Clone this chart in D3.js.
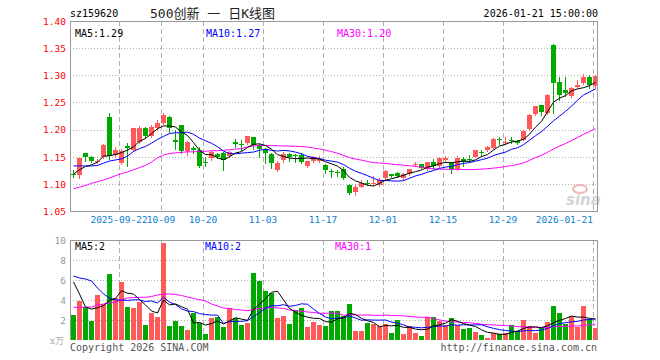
<!DOCTYPE html>
<html><head><meta charset="utf-8">
<script src="https://cdn.jsdelivr.net/npm/d3@7"></script>
<style>body{margin:0;background:#fff}svg{display:block}</style>
</head><body><svg id="c" width="660" height="360"></svg>
<script>
const dates = ["2025-09-10","2025-09-11","2025-09-12","2025-09-15","2025-09-16","2025-09-17","2025-09-18","2025-09-19",
"2025-09-22","2025-09-23","2025-09-24","2025-09-25","2025-09-26","2025-09-29","2025-09-30","2025-10-09","2025-10-10",
"2025-10-13","2025-10-14","2025-10-15","2025-10-16","2025-10-17","2025-10-20","2025-10-21","2025-10-22","2025-10-23","2025-10-24",
"2025-10-27","2025-10-28","2025-10-29","2025-10-30","2025-10-31","2025-11-03","2025-11-04","2025-11-05","2025-11-06","2025-11-07",
"2025-11-10","2025-11-11","2025-11-12","2025-11-13","2025-11-14","2025-11-17","2025-11-18","2025-11-19","2025-11-20","2025-11-21",
"2025-11-24","2025-11-25","2025-11-26","2025-11-27","2025-11-28","2025-12-01","2025-12-02","2025-12-03","2025-12-04","2025-12-05",
"2025-12-08","2025-12-09","2025-12-10","2025-12-11","2025-12-12","2025-12-15","2025-12-16","2025-12-17","2025-12-18","2025-12-19",
"2025-12-22","2025-12-23","2025-12-24","2025-12-25","2025-12-26","2025-12-29","2025-12-30","2025-12-31","2026-01-05","2026-01-06",
"2026-01-07","2026-01-08","2026-01-09","2026-01-12","2026-01-13","2026-01-14","2026-01-15","2026-01-16","2026-01-19","2026-01-20","2026-01-21"];

const open = [1.119,1.116,1.157,1.150,1.141,1.150,1.223,1.153,1.138,1.170,1.162,1.178,1.203,1.188,1.202,1.212,1.223,1.180,1.208,1.160,
1.166,1.162,1.140,1.147,1.155,1.156,1.151,1.178,1.174,1.175,1.186,1.172,1.164,1.155,1.126,1.144,1.155,1.154,1.153,1.132,
1.142,1.143,1.135,1.123,1.122,1.127,1.098,1.085,1.095,1.102,1.101,1.098,1.110,1.118,1.120,1.110,1.119,1.135,1.136,1.127,
1.140,1.132,1.144,1.138,1.127,1.146,1.146,1.150,1.159,1.162,1.166,1.182,1.176,1.181,1.179,1.181,1.201,1.229,1.245,1.231,
1.356,1.288,1.273,1.262,1.278,1.285,1.297,1.280];
const high = [1.125,1.148,1.157,1.151,1.146,1.173,1.231,1.168,1.164,1.176,1.203,1.207,1.205,1.208,1.218,1.231,1.225,1.199,1.209,1.179,
1.170,1.167,1.150,1.160,1.156,1.158,1.160,1.182,1.181,1.189,1.187,1.173,1.166,1.157,1.142,1.159,1.157,1.155,1.156,1.143,
1.152,1.151,1.136,1.127,1.126,1.131,1.099,1.098,1.108,1.107,1.115,1.110,1.125,1.119,1.121,1.120,1.128,1.140,1.137,1.141,
1.145,1.150,1.152,1.141,1.151,1.150,1.154,1.163,1.162,1.169,1.184,1.186,1.186,1.186,1.180,1.200,1.228,1.244,1.246,1.265,
1.357,1.297,1.297,1.278,1.292,1.302,1.300,1.300];
const low = [1.112,1.110,1.143,1.140,1.139,1.147,1.145,1.150,1.137,1.132,1.160,1.175,1.184,1.186,1.200,1.210,1.196,1.165,1.157,1.153,
1.156,1.131,1.132,1.144,1.147,1.126,1.150,1.168,1.163,1.174,1.165,1.150,1.138,1.129,1.124,1.141,1.143,1.140,1.138,1.131,
1.140,1.140,1.120,1.113,1.115,1.109,1.082,1.080,1.094,1.098,1.098,1.096,1.108,1.112,1.112,1.108,1.117,1.132,1.129,1.125,
1.127,1.131,1.141,1.120,1.125,1.132,1.141,1.149,1.154,1.160,1.165,1.173,1.174,1.175,1.174,1.180,1.200,1.227,1.227,1.228,
1.230,1.254,1.262,1.260,1.276,1.284,1.276,1.277];
const close = [1.117,1.147,1.150,1.143,1.143,1.172,1.151,1.162,1.160,1.166,1.202,1.202,1.188,1.204,1.212,1.227,1.203,1.177,1.160,1.178,
1.162,1.132,1.138,1.159,1.149,1.144,1.159,1.173,1.172,1.188,1.172,1.164,1.157,1.138,1.138,1.155,1.150,1.151,1.140,1.142,
1.150,1.146,1.126,1.121,1.120,1.110,1.083,1.094,1.101,1.100,1.102,1.107,1.124,1.114,1.115,1.119,1.127,1.137,1.130,1.140,
1.132,1.147,1.148,1.127,1.148,1.140,1.144,1.162,1.157,1.167,1.182,1.180,1.178,1.179,1.175,1.198,1.227,1.243,1.233,1.264,
1.285,1.264,1.267,1.276,1.282,1.297,1.282,1.298];
const volume = [2.5,3.93,3.27,1.93,4.5,3.6,6.6,4.17,5.77,3.27,3.17,3.83,1.5,2.73,2.27,9.67,1.4,1.93,1.4,1.0,
2.73,1.73,0.6,2.17,2.27,1.27,3.23,2.17,1.5,1.67,6.67,5.9,4.9,4.73,2.17,2.4,1.57,3.0,3.17,1.27,
1.83,1.5,1.4,2.93,2.93,2.4,3.6,0.93,0.93,1.73,1.6,1.4,1.6,0.73,2.0,0.6,1.4,0.73,0.4,2.27,
2.27,1.93,1.5,2.17,1.5,1.1,1.17,0.83,0.5,0.23,0.73,0.6,0.73,1.5,0.93,2.0,1.4,0.73,1.17,1.83,
3.4,2.73,1.6,2.4,1.33,3.4,2.07,1.23];

// moving-average values for the days before a full window exists
const ma5Head = [1.118,1.126,1.132,1.135];
const ma10Head = [1.133,1.133,1.133,1.133,1.134,1.138,1.142,1.144,1.146];
const ma30Head = [1.091,1.094,1.097,1.101,1.104,1.107,1.111,1.115,1.119,1.122,1.126,1.130,1.134,1.140,1.148,1.153,1.156,1.157,1.158,1.159,
1.159,1.160,1.160,1.161,1.161,1.162,1.163,1.164,1.165];
const vma5Head = [5.8,4.6,3.3,3.1];
const vma10Head = [6.4,6.2,6.1,5.9,5.2,4.6,4.2,4.0,4.0];
const vma30Head = [3.27,3.27,3.27,3.3,3.5,3.6,3.7,3.8,4.0,4.2,4.25,4.27,4.27,4.35,4.5,4.6,4.6,4.55,4.45,4.3,
4.15,4.05,3.9,3.6,3.4,3.2,3.15,3.05,3.0];

const priceTicks = [1.05,1.10,1.15,1.20,1.25,1.30,1.35,1.40];
const volTicks = [2,4,6,8,10];
const tickDates = ["2025-09-22","2025-10-09","2025-10-20","2025-11-03","2025-11-17","2025-12-01","2025-12-15","2025-12-29","2026-01-21"];
const tickLabels = ["2025-09-22","10-09","10-20","11-03","11-17","12-01","12-15","12-29","2026-01-21"];

const RED = "#ff5a5a", GREEN = "#00a800", GRID = "#b0b0b0", FRAME = "#999";
const MONO = "'DejaVu Sans Mono', monospace";

const svg = d3.select("#c");
const L = 70, R = 597, T = 21, B = 211, VT = 240, VB = 340;
const x = d3.scalePoint().domain(dates).range([73, 595]);
const y = d3.scaleLinear().domain([1.05, 1.40]).range([B, T]);
const yv = d3.scaleLinear().domain([0, 10]).range([VB, VT]);

function movingAvg(vals, n, head) {
  return vals.map((v, i) => i < n - 1 ? head[i] : d3.mean(vals.slice(i - n + 1, i + 1)));
}
const ma5 = movingAvg(close, 5, ma5Head), ma10 = movingAvg(close, 10, ma10Head), ma30 = movingAvg(close, 30, ma30Head);
const vma5 = movingAvg(volume, 5, vma5Head), vma10 = movingAvg(volume, 10, vma10Head), vma30 = movingAvg(volume, 30, vma30Head);

const data = dates.map((d, i) => ({d, o: open[i], h: high[i], l: low[i], c: close[i], v: volume[i], up: close[i] >= open[i]}));
const crisp = v => Math.round(v) + 0.5;

// ---------- header ----------
svg.append("text").attr("x", 70).attr("y", 17).attr("font-family", MONO).attr("font-size", 10).attr("fill", "#000").text("sz159620");
svg.append("text").attr("x", 150).attr("y", 18).attr("font-family", "'DejaVu Sans Mono','Noto Sans CJK SC',sans-serif")
  .attr("font-size", 13).attr("fill", "#222").text("500创新 一 日K线图");
svg.append("text").attr("x", 598).attr("y", 17).attr("text-anchor", "end").attr("font-family", MONO).attr("font-size", 10).attr("fill", "#000").text("2026-01-21 15:00:00");

// ---------- grids ----------
const g = svg.append("g").attr("shape-rendering", "crispEdges");
g.selectAll(".hg").data(priceTicks.filter(t => t > 1.05 && t < 1.40)).join("line")
  .attr("x1", L).attr("x2", R).attr("y1", t => crisp(y(t))).attr("y2", t => crisp(y(t)))
  .attr("stroke", GRID).attr("stroke-dasharray", "1,2");
g.selectAll(".hv").data(volTicks.filter(t => t < 10)).join("line")
  .attr("x1", L).attr("x2", R).attr("y1", t => crisp(yv(t))).attr("y2", t => crisp(yv(t)))
  .attr("stroke", GRID).attr("stroke-dasharray", "1,2");
tickDates.forEach(d => {
  const xx = Math.round(x(d) - 2.5) + 0.5;
  g.append("line").attr("x1", xx).attr("x2", xx).attr("y1", T).attr("y2", B).attr("stroke", GRID).attr("stroke-dasharray", "5,3");
  g.append("line").attr("x1", xx).attr("x2", xx).attr("y1", VT).attr("y2", VB).attr("stroke", GRID).attr("stroke-dasharray", "5,3");
});

// ---------- y axis labels ----------
const ya = d3.axisLeft(y).tickValues(priceTicks).tickSize(0).tickPadding(0).tickFormat(d3.format(".2f"));
const yaG = svg.append("g").attr("transform", "translate(66,0)").call(ya);
yaG.select(".domain").remove();
yaG.selectAll("text").attr("font-family", MONO).attr("font-size", 9.5).attr("fill", "#f00").attr("dy", "0.35em");

const yva = d3.axisLeft(yv).tickValues(volTicks).tickSize(0).tickPadding(0).tickFormat(d3.format("d"));
const yvaG = svg.append("g").attr("transform", "translate(66,0)").call(yva);
yvaG.select(".domain").remove();
yvaG.selectAll("text").attr("font-family", MONO).attr("font-size", 9.5).attr("fill", "#999").attr("dy", "0.35em");
svg.append("text").attr("x", 64).attr("y", 344).attr("text-anchor", "end").attr("font-family", "'DejaVu Serif','Noto Sans CJK SC',serif")
  .attr("font-size", 9).attr("fill", "#aaa").text("x万");

// ---------- x axis labels ----------
const xa = d3.axisBottom(x).tickValues(tickDates).tickSize(0).tickPadding(0)
  .tickFormat(d => tickLabels[tickDates.indexOf(d)]);
const xaG = svg.append("g").attr("transform", "translate(-2.5,218)").call(xa);
xaG.select(".domain").remove();
xaG.selectAll("text").attr("font-family", MONO).attr("font-size", 9.5).attr("fill", "#0a7fd0").attr("dy", "0.55em");
xaG.selectAll(".tick").filter(d => d === tickDates[tickDates.length - 1]).select("text").attr("text-anchor", "end");

// ---------- watermark ----------
svg.append("ellipse").attr("cx", 580).attr("cy", 189).attr("rx", 7).attr("ry", 4).attr("fill", "none").attr("stroke", "#f2b8b8").attr("stroke-width", 2);
svg.append("text").attr("x", 566).attr("y", 205).attr("font-family", "'DejaVu Sans',sans-serif").attr("font-style", "italic").attr("font-weight", "bold")
  .attr("font-size", 15).attr("fill", "#d4d4d4").text("sina");

// ---------- candles ----------
const cg = svg.append("g").attr("shape-rendering", "crispEdges");
cg.selectAll(".wick").data(data).join("line")
  .attr("x1", d => x(d.d) + 0.5).attr("x2", d => x(d.d) + 0.5)
  .attr("y1", d => Math.round(y(d.h))).attr("y2", d => Math.round(y(d.l)) + 1)
  .attr("stroke", d => d.up ? RED : GREEN);
cg.selectAll(".body").data(data).join("rect")
  .attr("x", d => x(d.d) - 2).attr("width", 5)
  .attr("y", d => Math.round(y(Math.max(d.o, d.c))))
  .attr("height", d => Math.max(1, Math.round(y(Math.min(d.o, d.c))) - Math.round(y(Math.max(d.o, d.c)))))
  .attr("fill", d => d.up ? RED : GREEN);

// ---------- volume bars ----------
cg.selectAll(".vol").data(data).join("rect")
  .attr("x", d => x(d.d) - 2).attr("width", 5)
  .attr("y", d => Math.round(yv(d.v))).attr("height", d => VB - Math.round(yv(d.v)))
  .attr("fill", d => d.up ? RED : GREEN);

// ---------- MA lines ----------
const lineP = d3.line().x((v, i) => x(dates[i]) + 0.5).y(v => y(v));
const lineV = d3.line().x((v, i) => x(dates[i]) + 0.5).y(v => yv(v));
[[ma30, "#ff00ff"], [ma10, "#0000ff"], [ma5, "#000"]].forEach(([s, c]) =>
  svg.append("path").attr("d", lineP(s)).attr("fill", "none").attr("stroke", c).attr("stroke-width", 1));
[[vma30, "#ff00ff"], [vma10, "#0000ff"], [vma5, "#000"]].forEach(([s, c]) =>
  svg.append("path").attr("d", lineV(s)).attr("fill", "none").attr("stroke", c).attr("stroke-width", 1));

// ---------- frames ----------
svg.append("rect").attr("x", L + 0.5).attr("y", T + 0.5).attr("width", R - L).attr("height", B - T)
  .attr("fill", "none").attr("stroke", FRAME).attr("shape-rendering", "crispEdges");
svg.append("path").attr("d", `M${L + 0.5},${VB}V${VT + 0.5}H${R + 0.5}V${VB}`)
  .attr("fill", "none").attr("stroke", FRAME).attr("shape-rendering", "crispEdges");

// ---------- legends ----------
const last = dates.length - 1;
const legP = [["MA5:" + ma5[last].toFixed(2), "#000", 75], ["MA10:" + ma10[last].toFixed(2), "#0000ff", 206], ["MA30:" + ma30[last].toFixed(2), "#ff00ff", 337]];
legP.forEach(([t, c, xx]) => svg.append("text").attr("x", xx).attr("y", 37).attr("font-family", MONO).attr("font-size", 10).attr("fill", c).text(t));
const legV = [["MA5:" + Math.floor(vma5[last]), "#000", 75], ["MA10:" + Math.floor(vma10[last]), "#0000ff", 205], ["MA30:" + Math.floor(vma30[last]), "#ff00ff", 335]];
legV.forEach(([t, c, xx]) => svg.append("text").attr("x", xx).attr("y", 250).attr("font-family", MONO).attr("font-size", 10).attr("fill", c).text(t));

// ---------- footer ----------
svg.append("text").attr("x", 70).attr("y", 351).attr("font-family", MONO).attr("font-size", 10).attr("fill", "#555").text("Copyright 2026 SINA.COM");
svg.append("text").attr("x", 597).attr("y", 351).attr("text-anchor", "end").attr("font-family", MONO).attr("font-size", 10).attr("fill", "#555").text("http://finance.sina.com.cn");
</script></body></html>
